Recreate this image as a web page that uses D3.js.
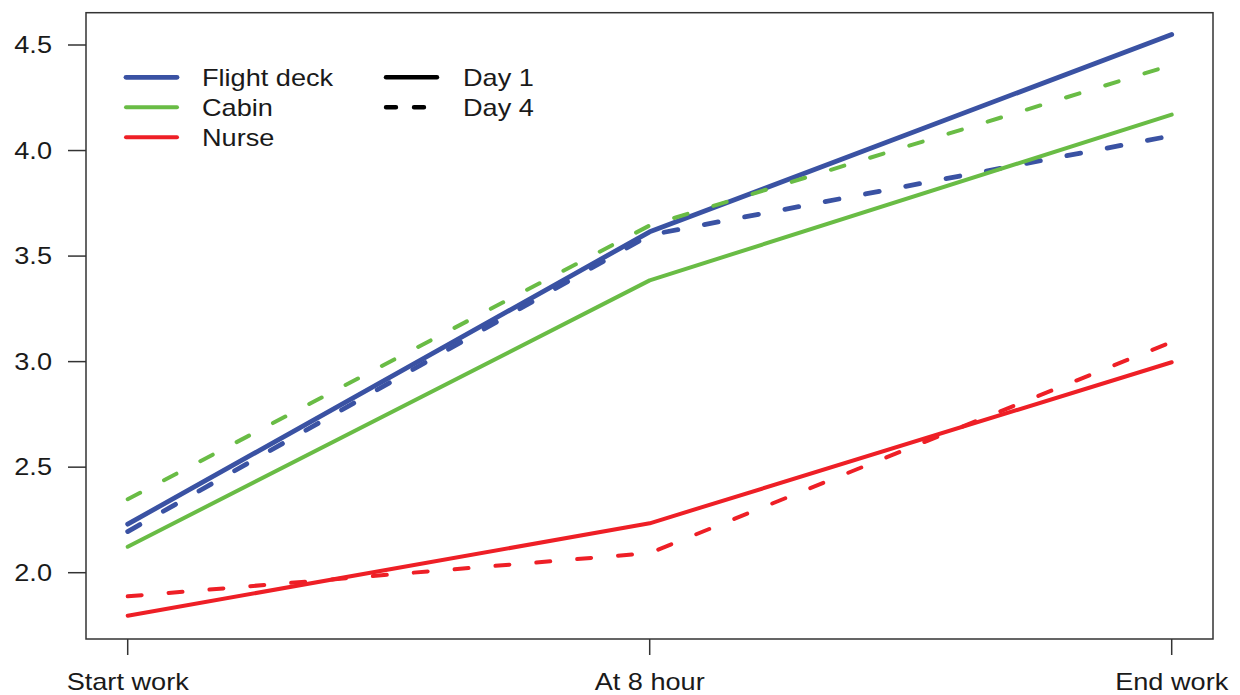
<!DOCTYPE html>
<html>
<head>
<meta charset="utf-8">
<script src="https://cdn.jsdelivr.net/npm/d3@7"></script>
<style>
  html, body { margin: 0; padding: 0; background: #fff; }
  svg { display: block; }
  text { font-family: "Liberation Sans", Arial, sans-serif; fill: #1a1a1a; }
</style>
</head>
<body>
<svg id="chart" width="1240" height="695"></svg>
<script>
// Time points along the work shift
const timepoints = ["Start work", "At 8 hour", "End work"];

// Mean scores per crew group and day
const flightDeckDay1 = [2.23, 3.615, 4.55];
const flightDeckDay4 = [2.195, 3.60, 4.07];
const cabinDay1      = [2.123, 3.385, 4.17];
const cabinDay4      = [2.348, 3.645, 4.405];
const nurseDay1      = [1.796, 2.234, 2.997];
const nurseDay4      = [1.888, 2.093, 3.093];

const yTicks = [2.0, 2.5, 3.0, 3.5, 4.0, 4.5];

const groups = ["Flight deck", "Cabin", "Nurse"];
const groupColors = ["#3a52a3", "#69bc45", "#ee1f26"];
const groupWidths = [4.8, 4.0, 4.0];
const days = ["Day 1", "Day 4"];

const series = [
  { group: 0, day: 0, values: flightDeckDay1 },
  { group: 0, day: 1, values: flightDeckDay4 },
  { group: 1, day: 0, values: cabinDay1 },
  { group: 1, day: 1, values: cabinDay4 },
  { group: 2, day: 0, values: nurseDay1 },
  { group: 2, day: 1, values: nurseDay4 }
];

const svg = d3.select("#chart");
const box = { left: 86, top: 12.7, right: 1213, bottom: 639 };
const sx = 1.18; // horizontal text stretch
const fontSize = 23;

const x = d3.scalePoint().domain(timepoints).range([127.7, 1171.7]);
const y = d3.scaleLinear().domain([2, 4.5]).range([572.7, 45]);

// Plot frame
svg.append("rect")
  .attr("x", box.left).attr("y", box.top)
  .attr("width", box.right - box.left).attr("height", box.bottom - box.top)
  .attr("fill", "none").attr("stroke", "#333").attr("stroke-width", 1.5);

// Y axis ticks and labels
const yAxis = svg.append("g");
yTicks.forEach(t => {
  yAxis.append("line")
    .attr("x1", box.left - 18).attr("x2", box.left)
    .attr("y1", y(t)).attr("y2", y(t))
    .attr("stroke", "#333").attr("stroke-width", 1.5);
  yAxis.append("text")
    .attr("transform", `translate(${box.left - 34},${y(t)}) scale(${sx},1)`)
    .attr("text-anchor", "end").attr("dy", "0.36em")
    .attr("font-size", fontSize)
    .text(t.toFixed(1));
});

// X axis ticks and labels
const xAxis = svg.append("g");
timepoints.forEach(c => {
  xAxis.append("line")
    .attr("x1", x(c)).attr("x2", x(c))
    .attr("y1", box.bottom).attr("y2", box.bottom + 16)
    .attr("stroke", "#333").attr("stroke-width", 1.5);
  xAxis.append("text")
    .attr("transform", `translate(${x(c)},690) scale(${sx},1)`)
    .attr("text-anchor", "middle")
    .attr("font-size", fontSize)
    .text(c);
});

// Series lines
const line = d3.line()
  .x((d, i) => x(timepoints[i]))
  .y(d => y(d));

const dashPlot = "14,27";
svg.append("g").selectAll("path")
  .data(series)
  .join("path")
  .attr("d", d => line(d.values))
  .attr("fill", "none")
  .attr("stroke", d => groupColors[d.group])
  .attr("stroke-width", d => groupWidths[d.group])
  .attr("stroke-linecap", "round")
  .attr("stroke-linejoin", "round")
  .attr("stroke-dasharray", d => d.day === 1 ? dashPlot : null);

// Legend: groups
const legend = svg.append("g");
groups.forEach((g, i) => {
  const ly = 77.3 + i * 30;
  legend.append("line")
    .attr("x1", 126).attr("x2", 177).attr("y1", ly).attr("y2", ly)
    .attr("stroke", groupColors[i]).attr("stroke-width", groupWidths[i])
    .attr("stroke-linecap", "round");
  legend.append("text")
    .attr("transform", `translate(202,${ly}) scale(${sx},1)`)
    .attr("dy", "0.36em").attr("font-size", fontSize)
    .text(g);
});

// Legend: days
days.forEach((dname, i) => {
  const ly = 77.3 + i * 30;
  legend.append("line")
    .attr("x1", 386).attr("x2", 437).attr("y1", ly).attr("y2", ly)
    .attr("stroke", "#000").attr("stroke-width", 4.4)
    .attr("stroke-linecap", "round")
    .attr("stroke-dasharray", i === 1 ? "10,18" : null);
  legend.append("text")
    .attr("transform", `translate(463,${ly}) scale(${sx},1)`)
    .attr("dy", "0.36em").attr("font-size", fontSize)
    .text(dname);
});
</script>
</body>
</html>
